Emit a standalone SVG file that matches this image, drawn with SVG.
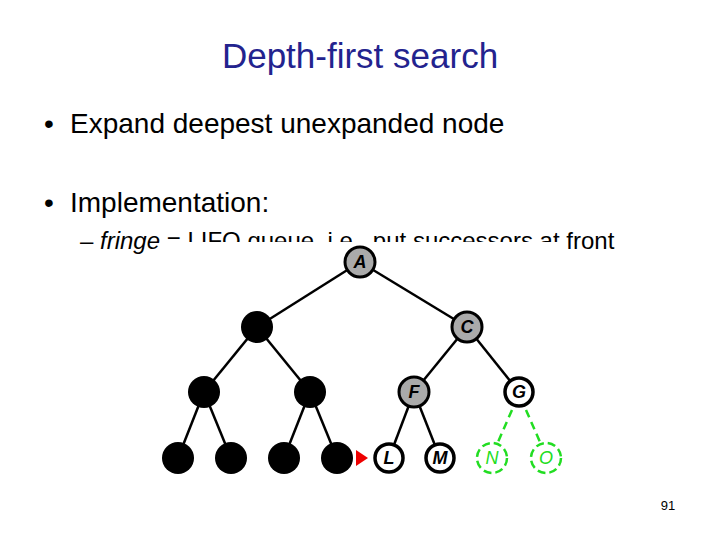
<svg xmlns="http://www.w3.org/2000/svg" width="720" height="540" viewBox="0 0 720 540">
<style>
text{font-family:"Liberation Sans",Arial,sans-serif;}
.b{font-size:28px;fill:#000}
.e line{stroke:#000;stroke-width:2.5}
.g line{stroke:#22dd22;stroke-width:2.5;stroke-dasharray:8 5}
.blk{fill:#000}
.gry{fill:#aaa;stroke:#000;stroke-width:3}
.wht{fill:#fff;stroke:#000;stroke-width:3.5}
.grn{fill:#fff;stroke:#22dd22;stroke-width:2.5;stroke-dasharray:8 4}
.l{font-size:18px;font-style:italic;font-weight:bold;text-anchor:middle;fill:#000}
.lg{font-size:18px;font-style:italic;text-anchor:middle;fill:#22dd22}
</style>
<rect width="720" height="540" fill="#fff"/>
<text x="360" y="68" font-size="35" fill="#23238e" text-anchor="middle">Depth-first search</text>
<text class="b" x="44" y="133">•</text><text class="b" x="70" y="133">Expand deepest unexpanded node</text>
<text class="b" x="44" y="212">•</text><text class="b" x="70" y="212">Implementation:</text>
<text x="80" y="249" font-size="24">– <tspan font-style="italic">fringe</tspan> = LIFO queue, i.e., put successors at front</text>
<rect x="163" y="242" width="400" height="240" fill="#fff"/>
<g id="connectors">
<g class="e">
<line x1="360" y1="262" x2="257" y2="327"/><line x1="360" y1="262" x2="467" y2="327"/>
<line x1="257" y1="327" x2="204" y2="392"/><line x1="257" y1="327" x2="310" y2="392"/>
<line x1="467" y1="327" x2="414" y2="392"/><line x1="467" y1="327" x2="519" y2="392"/>
<line x1="204" y1="392" x2="178" y2="458"/><line x1="204" y1="392" x2="231" y2="458"/>
<line x1="310" y1="392" x2="284" y2="458"/><line x1="310" y1="392" x2="337" y2="458"/>
<line x1="414" y1="392" x2="389" y2="458"/><line x1="414" y1="392" x2="440" y2="458"/>
</g>
<g class="g">
<line x1="512" y1="410" x2="498" y2="442"/><line x1="526" y1="410" x2="540" y2="442"/>
</g>
<polygon points="356,450 368,458 356,466" fill="#e00"/>
</g>
<g id="nA"><circle cx="360" cy="262" r="15" class="gry"/><text class="l" x="360" y="268">A</text></g>
<g id="nB"><circle cx="257" cy="327" r="16" class="blk"/></g>
<g id="nC"><circle cx="467" cy="327" r="15" class="gry"/><text class="l" x="467" y="333">C</text></g>
<g id="nD"><circle cx="204" cy="392" r="16" class="blk"/></g>
<g id="nE"><circle cx="310" cy="392" r="16" class="blk"/></g>
<g id="nF"><circle cx="414" cy="392" r="15" class="gry"/><text class="l" x="414" y="398">F</text></g>
<g id="nG"><circle cx="519" cy="392" r="14" class="wht"/><text class="l" x="519" y="398">G</text></g>
<g id="nH"><circle cx="178" cy="458" r="16" class="blk"/></g>
<g id="nI"><circle cx="231" cy="458" r="16" class="blk"/></g>
<g id="nJ"><circle cx="284" cy="458" r="16" class="blk"/></g>
<g id="nK"><circle cx="337" cy="458" r="16" class="blk"/></g>
<g id="nL"><circle cx="389" cy="458" r="14" class="wht"/><text class="l" x="389" y="464">L</text></g>
<g id="nM"><circle cx="440" cy="458" r="14" class="wht"/><text class="l" x="440" y="464">M</text></g>
<g id="nN"><circle cx="492" cy="458" r="15" class="grn"/><text class="lg" x="492" y="464">N</text></g>
<g id="nO"><circle cx="546" cy="458" r="15" class="grn"/><text class="lg" x="546" y="464">O</text></g>
<text x="668" y="510" font-size="13" text-anchor="middle">91</text>
</svg>
